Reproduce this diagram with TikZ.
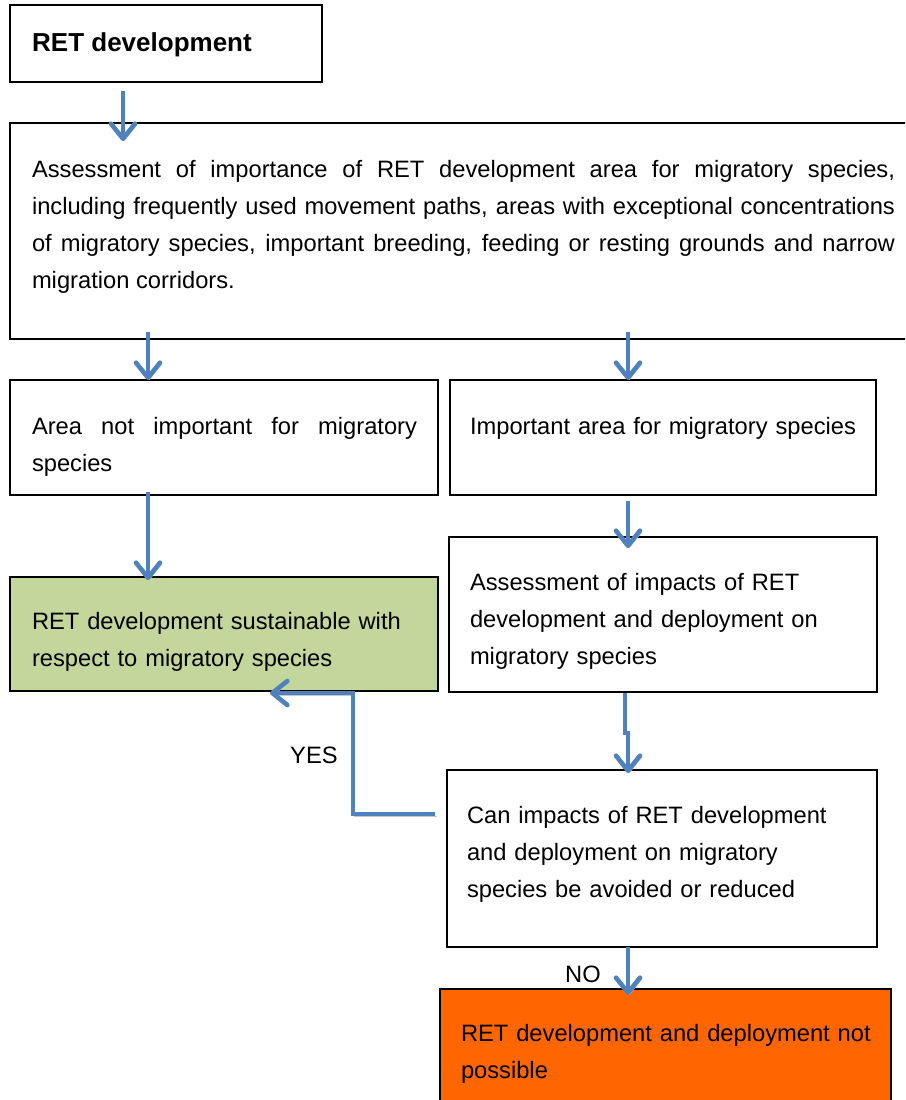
\documentclass[tikz,border=0pt]{standalone}
\usepackage{fontspec}
\setmainfont{Liberation Sans}
\usetikzlibrary{arrows.meta,calc}
\definecolor{arrblue}{RGB}{79,129,189}
\definecolor{boxgreen}{RGB}{195,214,155}
\definecolor{boxorange}{RGB}{255,102,0}
\setlength\parindent{0pt}
\begin{document}
\begin{tikzpicture}[x=1pt,y=-1pt,
  box/.style={draw=black, line width=1.3pt, rectangle, anchor=north west, inner sep=0pt, outer sep=0pt},
  txt/.style={anchor=base west, inner sep=0pt, outer sep=0pt, align=left, font=\fontsize{23.7}{37}\selectfont},
  jtxt/.style={txt, align=justify},
  lbl/.style={anchor=base west, inner sep=0pt, font=\fontsize{23.7}{30}\selectfont},
  arr/.style={draw=arrblue, line width=4.6pt, -{Straight Barb[length=15pt,width=24pt,round]},
    preaction={draw=black!22, transform canvas={shift={(1.5pt,-2pt)}}}},
]
\path[use as bounding box] (0,0) rectangle (905,1100);
\clip (0,0) rectangle (905,1100);

% boxes
\node[box, minimum width=312pt, minimum height=77pt] (b1) at (10,5) {};
\node[box, minimum width=940pt, minimum height=216pt] (b2) at (10,123) {};
\node[box, minimum width=428pt, minimum height=115pt] (b3) at (10,380) {};
\node[box, minimum width=426pt, minimum height=115pt] (b4) at (450,380) {};
\node[box, fill=boxgreen, minimum width=428pt, minimum height=114pt] (b5) at (10,577) {};
\node[box, minimum width=428pt, minimum height=155pt] (b6) at (449,537) {};
\node[box, minimum width=430pt, minimum height=177pt] (b7) at (447,770) {};
\node[box, fill=boxorange, minimum width=451pt, minimum height=140pt] (b8) at (440,989) {};

% texts
\node[anchor=base west, inner sep=0pt, font=\fontsize{26}{30}\bfseries\selectfont] (t1) at (32,51) {RET development};
\node[jtxt, text width=863pt] (t2) at (32,177) {Assessment of importance of RET development area for migratory species,\linebreak including frequently used movement paths, areas with exceptional concentrations\linebreak of migratory species, important breeding, feeding or resting grounds and narrow\linebreak migration corridors.};
\node[jtxt, text width=385pt] (t3) at (32,434) {Area not important for migratory\linebreak species};
\node[txt, text width=400pt] (t4) at (470,434) {Important area for migratory species};
\node[txt, text width=400pt] (t5) at (32,629) {RET development sustainable with\\respect to migratory species};
\node[txt, text width=400pt] (t6) at (470,590) {Assessment of impacts of RET\\development and deployment on\\migratory species};
\node[txt, text width=400pt] (t7) at (467,823) {Can impacts of RET development\\and deployment on migratory\\species be avoided or reduced};
\node[txt, text width=425pt] (t8) at (461,1041) {RET development and deployment not\\possible};
\node[lbl] (yes) at (290,763) {YES};
\node[lbl] (no) at (565,982) {NO};

% connector x positions
\coordinate (xA) at (123,0);
\coordinate (xL) at (148,0);
\coordinate (xR) at (628,0);
\coordinate (xJ) at (625,0);

\draw[arr] ([yshift=-9pt]b1.south -| xA) -- ([yshift=-18pt]b2.north -| xA);
\draw[arr] ([yshift=7pt]b2.south -| xL) -- (b3.north -| xL);
\draw[arr] ([yshift=7pt]b2.south -| xR) -- (b4.north -| xR);
\draw[arr] ([yshift=3pt]b3.south -| xL) -- ([yshift=-3pt]b5.north -| xL);
\draw[arr] ([yshift=-6pt]b4.south -| xR) -- ([yshift=-11pt]b6.north -| xR);
\draw[arr] ([yshift=-1pt]b6.south -| xJ) -- ++(0,40) -- ++(3,0) -- ([yshift=-3pt]b7.north -| xR);
\draw[arr] (b7.south -| xR) -- ([yshift=-6pt]b8.north -| xR);

% YES connector
\coordinate (ys) at (435,814);
\coordinate (yc) at (353,0);
\coordinate (ye) at (270,693);
\draw[arr] (ys) -- (ys -| yc) -- (yc |- ye) -- (ye);
\end{tikzpicture}
\end{document}
